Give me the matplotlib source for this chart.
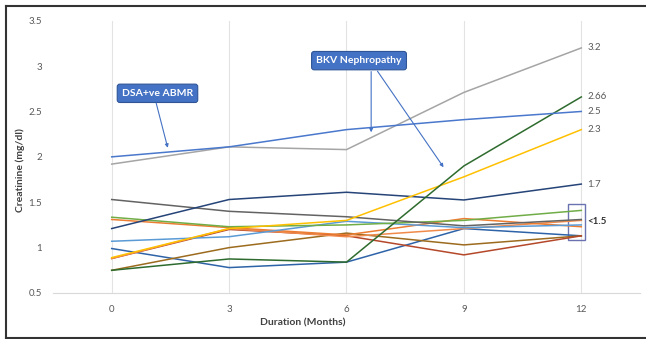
import matplotlib
matplotlib.use("Agg")
import matplotlib.pyplot as plt
from matplotlib.patches import Rectangle
from matplotlib.lines import Line2D

months = [0, 3, 6, 9, 12]
xtick_labels = ["0", "3", "6", "9", "12"]
ytick_values = [0.5, 1, 1.5, 2, 2.5, 3, 3.5]
ytick_labels = ["0.5", "1", "1.5", "2", "2.5", "3", "3.5"]

s_gray = [1.92, 2.11, 2.08, 2.71, 3.20]
s_blue = [2.00, 2.11, 2.30, 2.41, 2.50]
s_dkgreen = [0.75, 0.875, 0.84, 1.90, 2.66]
s_gold = [0.89, 1.21, 1.30, 1.78, 2.30]
s_navy = [1.21, 1.53, 1.61, 1.525, 1.70]
s_dkgray = [1.53, 1.40, 1.34, 1.24, 1.31]
s_green = [1.335, 1.23, 1.25, 1.30, 1.41]
s_orange = [1.31, 1.22, 1.14, 1.32, 1.23]
s_orange2 = [0.88, 1.21, 1.12, 1.21, 1.30]
s_dkorange = [0.88, 1.20, 1.13, 0.92, 1.13]
s_ltblue = [1.07, 1.12, 1.29, 1.22, 1.25]
s_steel = [0.99, 0.78, 0.84, 1.21, 1.13]
s_brown = [0.75, 1.00, 1.16, 1.03, 1.13]

end_labels = ["3.2", "2.66", "2.5", "2.3", "1.7"]
end_values = [3.2, 2.66, 2.5, 2.3, 1.7]

series = [
    (s_steel, "#2E63A8"),
    (s_brown, "#9C6B1E"),
    (s_dkorange, "#B5482A"),
    (s_orange2, "#F08A4B"),
    (s_orange, "#ED7D31"),
    (s_ltblue, "#5B9BD5"),
    (s_green, "#70AD47"),
    (s_dkgray, "#636363"),
    (s_navy, "#264478"),
    (s_gold, "#FFC000"),
    (s_dkgreen, "#2E6B2E"),
    (s_gray, "#A5A5A5"),
    (s_blue, "#4A78CC"),
]

plt.rcParams['font.family'] = ['Lato', 'DejaVu Sans']

fig = plt.figure(figsize=(6.46, 3.39), dpi=100)
ax = fig.add_axes([53/646, 1 - 293/339, (640-53)/646, (293-20.7)/339])

for vals, col in series:
    ax.plot(months, vals, color=col, lw=1.1, solid_joinstyle='miter')

ax.set_xlim(-1.5, 13.5)
ax.set_ylim(0.5, 3.5)
ax.set_xticks(months)
ax.set_xticklabels(xtick_labels)
ax.set_yticks(ytick_values)
ax.set_yticklabels(ytick_labels)
ax.tick_params(axis='both', length=0, labelsize=7, colors="#595959", pad=8)
ax.tick_params(axis='x', pad=9)
for sp in ["top", "right", "left"]:
    ax.spines[sp].set_visible(False)
ax.spines["bottom"].set_color("#D9D9D9")
ax.xaxis.grid(True, color="#E3E3E3", lw=0.8)
ax.set_axisbelow(True)

for lab, v in zip(end_labels, end_values):
    ax.text(12.15, v, lab, fontsize=7, color="#595959", va="center", ha="left")

ax.add_patch(Rectangle((11.67, 1.08), 0.42, 0.40, fill=False, ec="#6A72B0", lw=1.0))
ax.text(12.15, 1.285, "<1.5", fontsize=7, color="#333333", va="center", ha="left", fontweight="bold")

box = dict(boxstyle="round,pad=0.45,rounding_size=0.25", fc="#4472C4", ec="#2F5597", lw=0.8)
ax.text(1.17, 2.70, "DSA+ve ABMR", fontsize=7.5, color="white", fontweight="bold",
        ha="center", va="center", bbox=box)
ax.annotate("", xy=(1.45, 2.07), xytext=(1.12, 2.62),
            arrowprops=dict(arrowstyle="-|>", color="#4472C4", lw=0.8, mutation_scale=5))
ax.text(6.32, 3.06, "BKV Nephropathy", fontsize=7.5, color="white", fontweight="bold",
        ha="center", va="center", bbox=box)
ax.annotate("", xy=(6.63, 2.24), xytext=(6.63, 2.97),
            arrowprops=dict(arrowstyle="-|>", color="#4472C4", lw=0.8, mutation_scale=5))
ax.annotate("", xy=(8.52, 1.86), xytext=(6.75, 2.97),
            arrowprops=dict(arrowstyle="-|>", color="#4472C4", lw=0.8, mutation_scale=5))

fig.text(20/646, 1 - 170/339, "Creatinine (mg/dl)", rotation=90, fontsize=7.5,
         fontweight="bold", color="#404040", ha="center", va="center")
fig.text(303/646, 1 - 323/339, "Duration (Months)", fontsize=7.5,
         fontweight="bold", color="#404040", ha="center", va="center")

# frame around figure
for xs, ys in [([6/646, 6/646], [1-6/339, 1-338/339]),
               ([6/646, 1.0], [1-6/339, 1-6/339]),
               ([6/646, 1.0], [1-337.5/339, 1-337.5/339])]:
    fig.add_artist(Line2D(xs, ys, transform=fig.transFigure, color="#333333", lw=1.5))

fig.savefig("out.png", dpi=100)
